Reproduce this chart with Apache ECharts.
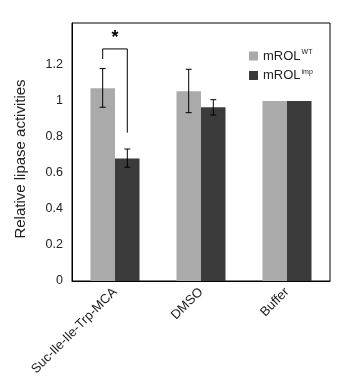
<!DOCTYPE html>
<html><head><meta charset="utf-8">
<script src="https://cdn.jsdelivr.net/npm/echarts@6/dist/echarts.min.js"></script>
<style>html,body{margin:0;padding:0;background:#fff}#c{width:349px;height:382px}</style>
</head><body><div id="c"></div>
<script>
const categories = ['Suc-Ile-Ile-Trp-MCA', 'DMSO', 'Buffer'];
const wtValues = [1.07, 1.054, 1.0];
const impValues = [0.68, 0.965, 1.0];
const wtErrLow = [0.965, 0.935, null];
const wtErrHigh = [1.18, 1.176, null];
const impErrLow = [0.632, 0.922, null];
const impErrHigh = [0.733, 1.007, null];
// significance bracket: [category, top, leftEnd, rightEnd, starY]
const bracket = [[0, 1.289, 1.233, 0.824, 1.35]];
const yTicks = [0, 0.2, 0.4, 0.6, 0.8, 1, 1.2];

const chart = echarts.init(document.getElementById('c'));
const font = 'Liberation Sans, Arial, sans-serif';
const BAR_OFF = 0.143;

function errSeries(low, high, side) {
  const data = [];
  low.forEach((l, i) => { if (l != null) data.push([i, l, high[i]]); });
  return {
    type: 'custom', z: 10, silent: true,
    data: data,
    renderItem: function (params, api) {
      const c = api.value(0);
      const lo = api.coord([c, api.value(1)]);
      const hi = api.coord([c, api.value(2)]);
      const bw = api.size([1, 0])[0];
      const x = lo[0] + side * bw * BAR_OFF;
      const cap = 3;
      const st = { stroke: '#000', lineWidth: 1 };
      return { type: 'group', children: [
        { type: 'line', shape: { x1: x, y1: lo[1], x2: x, y2: hi[1] }, style: st },
        { type: 'line', shape: { x1: x - cap, y1: lo[1], x2: x + cap, y2: lo[1] }, style: st },
        { type: 'line', shape: { x1: x - cap, y1: hi[1], x2: x + cap, y2: hi[1] }, style: st }
      ]};
    }
  };
}

chart.setOption({
  animation: false,
  textStyle: { fontFamily: font },
  grid: { left: 72, right: 19, top: 23, bottom: 101, show: true, borderColor: '#000', borderWidth: 1 },
  legend: {
    left: 244, top: 44, orient: 'vertical', icon: 'rect', itemWidth: 9, itemHeight: 9, itemGap: 6,
    data: ['WT', 'imp'],
    formatter: function (n) { return '{a|mROL}{s|' + n + '}'; },
    textStyle: {
      rich: {
        a: { fontSize: 13, fontFamily: font, color: '#222', lineHeight: 14 },
        s: { fontSize: 7, fontFamily: font, color: '#222', verticalAlign: 'top', lineHeight: 14, padding: [0, 0, 6, 1] }
      }
    }
  },
  xAxis: {
    type: 'category', data: categories,
    axisLine: { lineStyle: { color: '#000' } },
    axisTick: { inside: true, length: 4, lineStyle: { color: '#000' } },
    axisLabel: { rotate: 45, fontSize: 13, color: '#222', margin: 9, interval: 0 }
  },
  yAxis: {
    type: 'value', min: 0, max: 1.433, interval: 0.2,
    name: 'Relative lipase activities', nameLocation: 'middle', nameGap: 44,
    nameTextStyle: { fontSize: 15, color: '#222', padding: [0, 0, 0, -14] },
    splitLine: { show: false },
    axisLine: { show: true, lineStyle: { color: '#000' } },
    axisTick: { inside: true, length: 3, lineStyle: { color: '#000' } },
    axisLabel: {
      fontSize: 12.5, color: '#222', margin: 9,
      formatter: function (v) { const r = Math.round(v * 10) / 10; return yTicks.indexOf(r) >= 0 ? String(r) : ''; }
    }
  },
  series: [
    { name: 'WT', type: 'bar', data: wtValues, barGap: '0%', barCategoryGap: '43%', itemStyle: { color: '#aaaaaa' } },
    { name: 'imp', type: 'bar', data: impValues, itemStyle: { color: '#3b3b3b' } },
    errSeries(wtErrLow, wtErrHigh, -1),
    errSeries(impErrLow, impErrHigh, 1),
    {
      type: 'custom', z: 10, silent: true, data: bracket,
      renderItem: function (params, api) {
        const c = api.value(0);
        const bw = api.size([1, 0])[0];
        const top = api.coord([c, api.value(1)]);
        const l = api.coord([c, api.value(2)]);
        const r = api.coord([c, api.value(3)]);
        const s = api.coord([c, api.value(4)]);
        const xl = top[0] - bw * BAR_OFF, xr = top[0] + bw * BAR_OFF;
        return { type: 'group', children: [
          { type: 'polyline', shape: { points: [[xl, l[1]], [xl, top[1]], [xr, top[1]], [xr, r[1]]] }, style: { stroke: '#000', lineWidth: 1, fill: null } },
          { type: 'text', style: { x: top[0], y: s[1], text: '*', fontSize: 18, fontFamily: font, fontWeight: 'bold', fill: '#000', align: 'center', verticalAlign: 'middle' } }
        ]};
      }
    }
  ]
});
</script></body></html>
